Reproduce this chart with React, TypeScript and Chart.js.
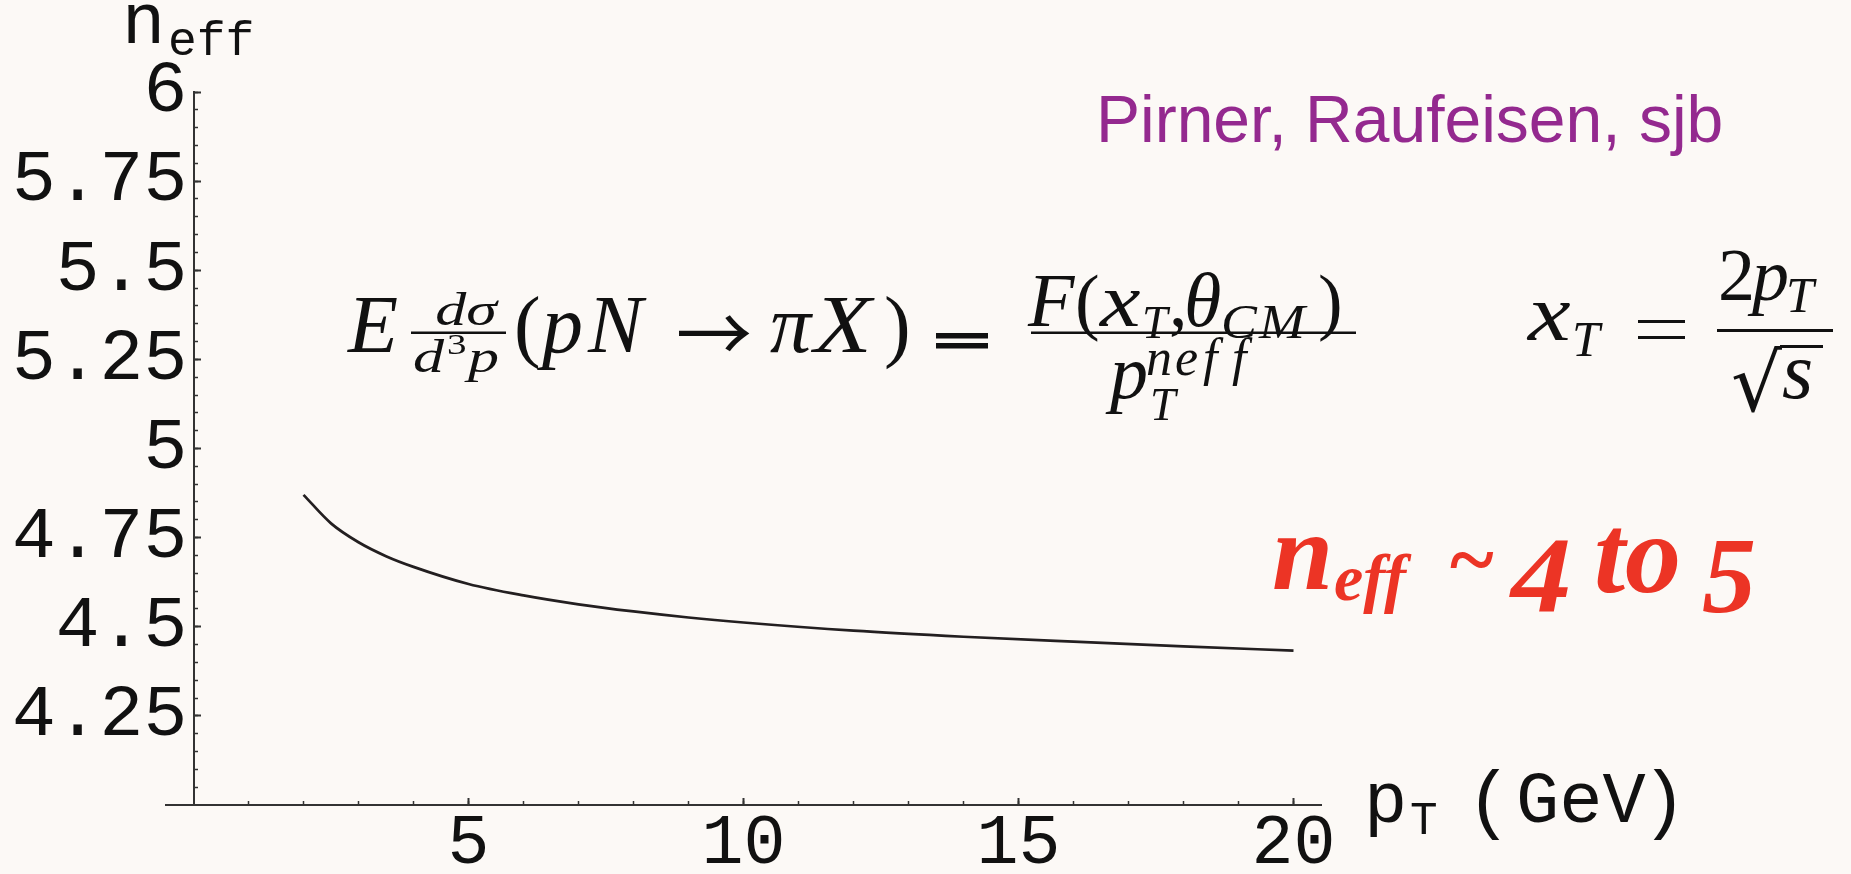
import { useEffect, useRef } from "react";
import { Chart, registerables } from "chart.js";

Chart.register(...registerables);

// Effective power n_eff of the inclusive pion cross section versus p_T (GeV)
const pT = [2, 2.5, 3, 3.5, 4, 5, 6, 7, 8, 9, 10, 12, 14, 16, 18, 20];
const nEff = [4.87, 4.79, 4.737, 4.698, 4.668, 4.62, 4.588, 4.563, 4.543, 4.526, 4.512, 4.489, 4.472, 4.458, 4.445, 4.433];

// Axis tick positions (labelled majors and unlabelled minors)
const xMajorTicks = [5, 10, 15, 20];
const xMinorTicks = [1, 2, 3, 4, 5, 6, 7, 8, 9, 10, 11, 12, 13, 14, 15, 16, 17, 18, 19, 20];
const yMajorTicks = [4.25, 4.5, 4.75, 5, 5.25, 5.5, 5.75, 6];
const yMinorTicks = [
  4.05, 4.1, 4.15, 4.2, 4.25, 4.3, 4.35, 4.4, 4.45, 4.5, 4.55, 4.6, 4.65, 4.7, 4.75, 4.8, 4.85, 4.9, 4.95, 5,
  5.05, 5.1, 5.15, 5.2, 5.25, 5.3, 5.35, 5.4, 5.45, 5.5, 5.55, 5.6, 5.65, 5.7, 5.75, 5.8, 5.85, 5.9, 5.95, 6,
];

const xRange = [-0.5, 20.5];
const yRange = [4, 6];

const W = 1851;
const H = 874;
const BG = "#fcf9f6";
const INK = "#111111";
const AXIS = "#333333";
const MONO = '"Liberation Mono", "DejaVu Sans Mono", monospace';
const SERIF = '"Liberation Serif", "DejaVu Serif", serif';
const SANS = '"Liberation Sans", Arial, sans-serif';
const SYM = '"DejaVu Sans", "DejaVu Serif", sans-serif';
const CJK = '"Noto Sans CJK SC", "DejaVu Sans", sans-serif';

type Ctx = CanvasRenderingContext2D;

function txt(ctx: Ctx, s: string, x: number, y: number, font: string, color = INK, align: CanvasTextAlign = "left", sx = 1) {
  ctx.save();
  ctx.font = font;
  ctx.fillStyle = color;
  ctx.textAlign = align;
  ctx.textBaseline = "alphabetic";
  ctx.translate(x, y);
  ctx.scale(sx, 1);
  ctx.fillText(s, 0, 0);
  ctx.restore();
}

// square-root sign sized to the given box, with its overline
function radical(ctx: Ctx, left: number, right: number, top: number, bottom: number, overEnd: number) {
  ctx.save();
  ctx.font = `100px ${SYM}`;
  const m0 = ctx.measureText("√");
  const h0 = m0.actualBoundingBoxAscent + m0.actualBoundingBoxDescent;
  const size = (100 * (bottom - top)) / h0;
  ctx.font = `${size}px ${SYM}`;
  const m = ctx.measureText("√");
  const gw = m.actualBoundingBoxLeft + m.actualBoundingBoxRight;
  const sx = (right - left) / gw;
  ctx.fillStyle = INK;
  ctx.textAlign = "left";
  ctx.textBaseline = "alphabetic";
  ctx.translate(left, bottom - m.actualBoundingBoxDescent);
  ctx.scale(sx, 1);
  ctx.fillText("√", m.actualBoundingBoxLeft, 0);
  ctx.restore();
  ctx.fillStyle = INK;
  ctx.fillRect(right - 2, top, overEnd - right + 2, 3);
}

const background = {
  id: "background",
  beforeDraw(chart: Chart) {
    const ctx = chart.ctx;
    ctx.save();
    ctx.fillStyle = BG;
    ctx.fillRect(0, 0, chart.width, chart.height);
    ctx.restore();
  },
};

const annotations = {
  id: "annotations",
  afterDraw(chart: Chart) {
    const ctx = chart.ctx;
    ctx.save();

    // axis titles
    txt(ctx, "n", 122, 43, `72px ${MONO}`);
    txt(ctx, "eff", 168, 55, `48px ${MONO}`);
    txt(ctx, "p", 1364, 822, `72px ${MONO}`);
    txt(ctx, "T", 1410, 834, `46px ${MONO}`);
    txt(ctx, "(", 1489, 824, `76px ${MONO}`, INK, "center");
    txt(ctx, "GeV", 1516, 822, `72px ${MONO}`);
    txt(ctx, ")", 1664, 824, `76px ${MONO}`, INK, "center");

    // authors
    txt(ctx, "Pirner, Raufeisen, sjb", 1096, 142, `66px ${SANS}`, "#94298f");

    // n_eff ~ 4 to 5
    const red = "#ec3425";
    txt(ctx, "n", 1272, 589, `italic bold 110px ${SERIF}`, red);
    txt(ctx, "eff", 1334, 600, `italic bold 66px ${SERIF}`, red);
    txt(ctx, "~", 1450, 588, `bold 84px ${SERIF}`, red);
    txt(ctx, "4", 1511, 612, `italic bold 108px ${SERIF}`, red, "left", 1.12);
    txt(ctx, "to", 1594, 592, `italic bold 112px ${SERIF}`, red);
    txt(ctx, "5", 1702, 612, `italic bold 108px ${SERIF}`, red);

    // E dσ/d³p (pN → πX) = F(x_T, θ_CM) / p_T^neff
    const big = `italic 82px ${SERIF}`;
    const up = `80px ${SERIF}`;
    const frac = `italic 46px ${SERIF}`;
    const num = `italic 76px ${SERIF}`;
    const upNum = `74px ${SERIF}`;
    const sub = `italic 46px ${SERIF}`;
    const sup = `italic 52px ${SERIF}`;
    txt(ctx, "E", 348, 352, big);
    ctx.fillStyle = INK;
    ctx.fillRect(411, 331.5, 95, 2.5);
    txt(ctx, "dσ", 466, 325, frac, INK, "center", 1.35);
    txt(ctx, "d", 413, 372, frac, INK, "left", 1.35);
    txt(ctx, "3", 447, 354, `30px ${SERIF}`, INK, "left", 1.3);
    txt(ctx, "p", 468, 372, frac, INK, "left", 1.35);
    txt(ctx, "(", 514, 352, up);
    txt(ctx, "p", 542, 352, big);
    txt(ctx, "N", 588, 352, big);
    txt(ctx, "→", 714, 362, `76px ${CJK}`, INK, "center");
    txt(ctx, "π", 770, 352, big);
    txt(ctx, "X", 814, 352, big, INK, "left", 1.15);
    txt(ctx, ")", 884, 352, up);
    ctx.fillStyle = INK;
    ctx.fillRect(936, 333, 52, 5.5);
    ctx.fillRect(936, 343, 52, 5.5);

    txt(ctx, "F", 1028, 326, num);
    txt(ctx, "(", 1075, 326, upNum);
    txt(ctx, "x", 1100, 326, num, INK, "left", 1.2);
    txt(ctx, "T", 1142, 338, sub);
    txt(ctx, ",", 1169, 326, upNum);
    txt(ctx, "θ", 1184, 326, num);
    txt(ctx, "C", 1221, 338, `italic 48px ${SERIF}`, INK, "left", 1.12);
    txt(ctx, "M", 1259, 338, `italic 48px ${SERIF}`, INK, "left", 1.15);
    txt(ctx, ")", 1318, 326, upNum);
    ctx.fillStyle = INK;
    ctx.fillRect(1031, 331.5, 325, 2.5);
    txt(ctx, "p", 1110, 398, num);
    txt(ctx, "T", 1150, 420, sub);
    txt(ctx, "n", 1146, 375, sup);
    txt(ctx, "e", 1175, 375, sup);
    txt(ctx, "f", 1203, 375, sup);
    txt(ctx, "f", 1232, 375, sup);

    // x_T = 2 p_T / √s
    txt(ctx, "x", 1528, 340, `italic 80px ${SERIF}`, INK, "left", 1.2);
    txt(ctx, "T", 1572, 356, `italic 50px ${SERIF}`);
    ctx.fillStyle = INK;
    ctx.fillRect(1638, 320, 47, 3);
    ctx.fillRect(1638, 336, 47, 3);
    ctx.fillRect(1717, 329, 116, 3);
    txt(ctx, "2", 1718, 300, `74px ${SERIF}`);
    txt(ctx, "p", 1752, 300, `italic 74px ${SERIF}`);
    txt(ctx, "T", 1786, 312, `italic 50px ${SERIF}`);
    radical(ctx, 1733, 1782, 345, 413, 1823);
    txt(ctx, "s", 1782, 398, `italic 80px ${SERIF}`);

    ctx.restore();
  },
};

const xTickFont = { family: MONO, size: 70, lineHeight: 1 };
const yTickFont = { family: MONO, size: 73, lineHeight: 1 };

export default function App() {
  const ref = useRef<HTMLCanvasElement | null>(null);

  useEffect(() => {
    const canvas = ref.current;
    if (!canvas) return;
    const chart = new Chart(canvas, {
      type: "line",
      data: {
        datasets: [
          {
            data: pT.map((x, i) => ({ x, y: nEff[i] })),
            borderColor: "#231f20",
            borderWidth: 2.7,
            pointRadius: 0,
            cubicInterpolationMode: "monotone",
            fill: false,
            xAxisID: "x",
            yAxisID: "y",
          },
        ],
      },
      options: {
        animation: false,
        responsive: false,
        devicePixelRatio: 1,
        events: [],
        layout: { padding: { left: 0, right: W - 1321, top: 92, bottom: H - 805 } },
        plugins: { legend: { display: false }, tooltip: { enabled: false }, title: { display: false } },
        scales: {
          // tick labels for n_eff, right-aligned just left of the y axis line
          yLabels: {
            type: "linear",
            axis: "y",
            min: yRange[0],
            max: yRange[1],
            position: "left",
            afterBuildTicks: (s: any) => {
              s.ticks = yMajorTicks.map((v) => ({ value: v }));
            },
            afterFit: (s: any) => {
              s.width = 166;
            },
            ticks: {
              font: yTickFont,
              color: INK,
              mirror: true,
              crossAlign: "far",
              padding: -154,
              autoSkip: false,
              callback: (v: any) => String(v),
            },
            grid: { display: false },
            border: { display: false },
          },
          x: {
            type: "linear",
            min: xRange[0],
            max: xRange[1],
            position: { y: 4 },
            afterBuildTicks: (s: any) => {
              s.ticks = xMajorTicks.map((v) => ({ value: v }));
            },
            ticks: { font: xTickFont, color: INK, padding: 12, maxRotation: 0, autoSkip: false, callback: (v: any) => String(v) },
            grid: { drawOnChartArea: false, drawTicks: true, tickLength: -8, tickWidth: 2, tickColor: AXIS },
            border: { display: true, color: AXIS, width: 2 },
          },
          xMinor: {
            type: "linear",
            axis: "x",
            min: xRange[0],
            max: xRange[1],
            position: { y: 4 },
            afterBuildTicks: (s: any) => {
              s.ticks = xMinorTicks.map((v) => ({ value: v }));
            },
            ticks: { display: false },
            grid: { drawOnChartArea: false, drawTicks: true, tickLength: -4, tickWidth: 1.5, tickColor: AXIS },
            border: { display: false },
          },
          y: {
            type: "linear",
            min: yRange[0],
            max: yRange[1],
            position: { x: 0 },
            afterBuildTicks: (s: any) => {
              s.ticks = yMajorTicks.map((v) => ({ value: v }));
            },
            ticks: { display: false },
            grid: { drawOnChartArea: false, drawTicks: true, tickLength: -8, tickWidth: 2, tickColor: AXIS },
            border: { display: true, color: AXIS, width: 2 },
          },
          yMinor: {
            type: "linear",
            axis: "y",
            min: yRange[0],
            max: yRange[1],
            position: { x: 0 },
            afterBuildTicks: (s: any) => {
              s.ticks = yMinorTicks.map((v) => ({ value: v }));
            },
            ticks: { display: false },
            grid: { drawOnChartArea: false, drawTicks: true, tickLength: -4, tickWidth: 1.5, tickColor: AXIS },
            border: { display: false },
          },
        },
      } as any,
      plugins: [background, annotations],
    });
    return () => chart.destroy();
  }, []);

  return (
    <div style={{ position: "fixed", left: 0, top: 0, width: W, height: H, background: BG }}>
      <canvas ref={ref} width={W} height={H} style={{ display: "block", width: W, height: H }} />
    </div>
  );
}
